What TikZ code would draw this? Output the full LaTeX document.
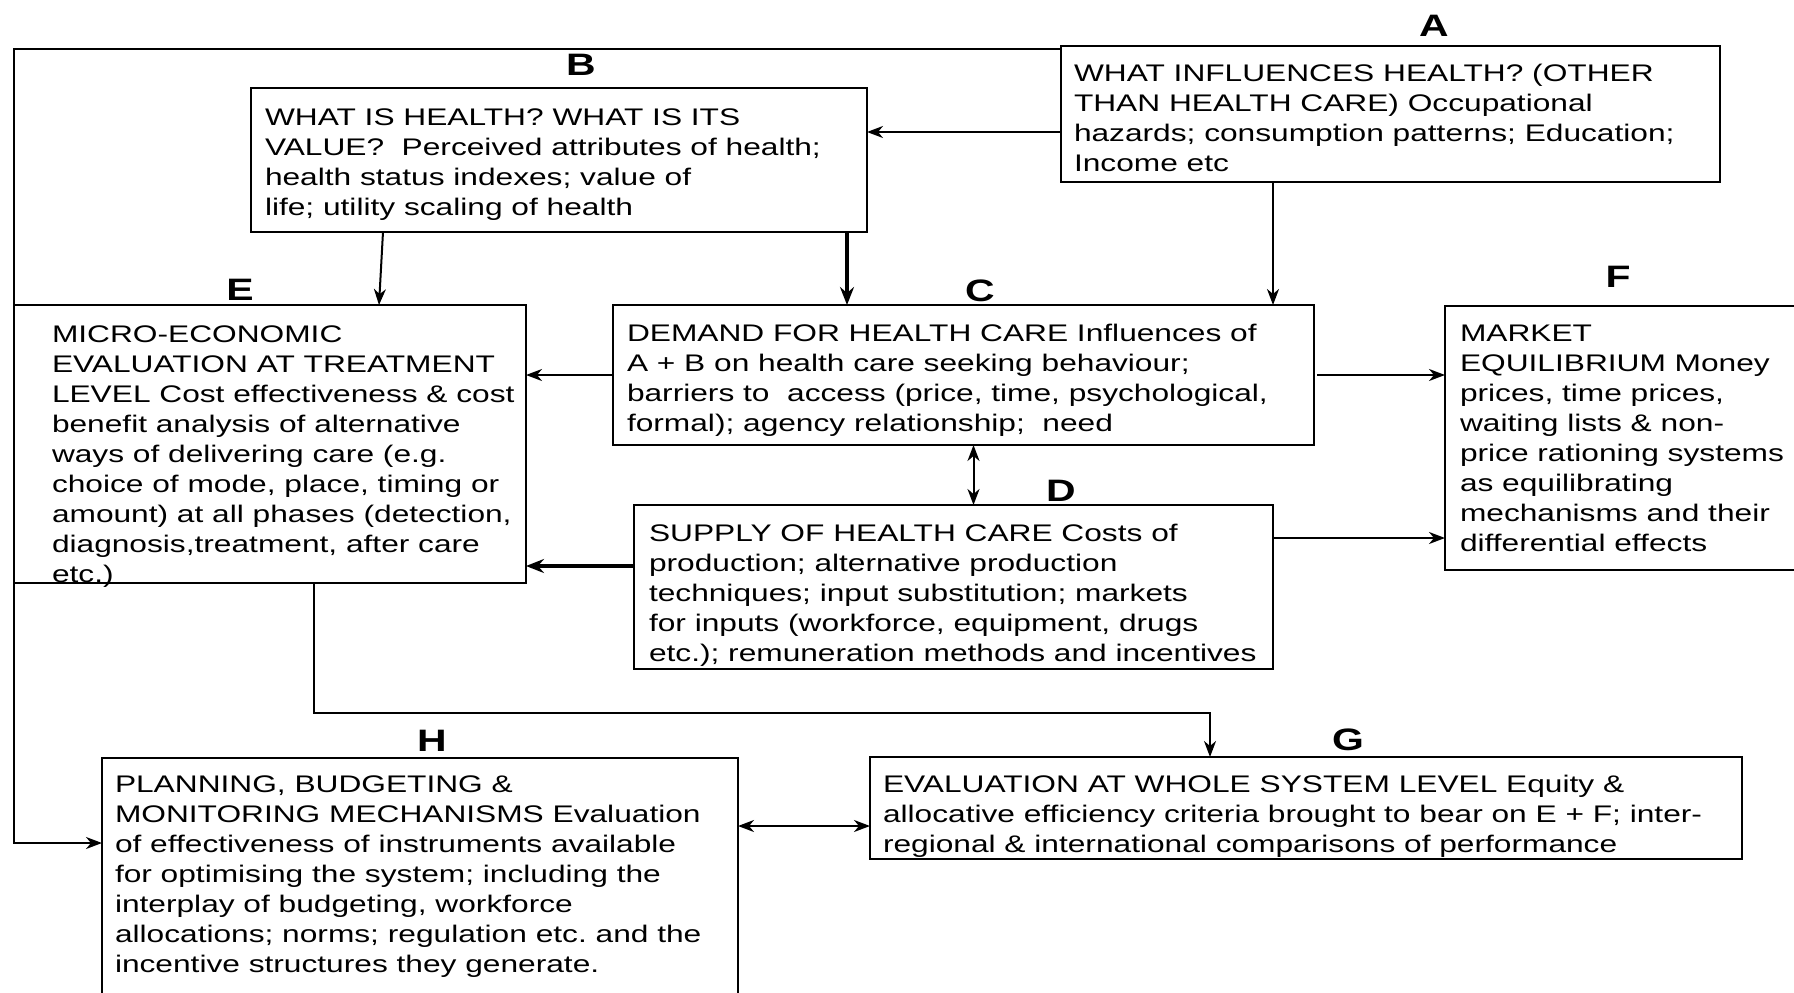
\documentclass[tikz,border=0pt]{standalone}
\usepackage{fontspec}
\setmainfont{Liberation Sans}[FakeStretch=1.32]
\usetikzlibrary{arrows.meta,calc}
\frenchspacing
\begin{document}
\begin{tikzpicture}[x=1pt,y=-1pt,
  box/.style={draw, line width=2pt, inner sep=0pt, outer sep=0pt, rectangle, anchor=north west},
  txt/.style={anchor=north west, inner sep=0pt, outer sep=0pt, align=left, font=\fontsize{24}{30}\selectfont},
  lbl/.style={font=\fontsize{31}{31}\selectfont\bfseries, inner sep=0pt},
  arr/.style={line width=2pt, -{Stealth[length=16pt,width=12pt,inset=5pt]}},
  tarr/.style={line width=3.5pt, -{Stealth[length=18pt,width=14pt,inset=6pt]}},
  darr/.style={line width=2pt, {Stealth[length=16pt,width=12pt,inset=5pt]}-{Stealth[length=16pt,width=12pt,inset=5pt]}},
  ]
\useasboundingbox (0,0) rectangle (1794,993);
\clip (0,0) rectangle (1794,993);

% boxes
\node[box, minimum width=659pt, minimum height=136pt] (A) at (1061,46) {};
\node[box, minimum width=616pt, minimum height=144pt] (B) at (251,88) {};
\node[box, minimum width=701pt, minimum height=140pt] (C) at (613,305) {};
\node[box, minimum width=639pt, minimum height=164pt] (D) at (634,505) {};
\node[box, minimum width=512pt, minimum height=278pt] (E) at (14,305) {};
\node[box, minimum width=400pt, minimum height=264pt] (F) at (1445,306) {};
\node[box, minimum width=872pt, minimum height=102pt] (G) at (870,757) {};
\node[box, minimum width=636pt, minimum height=260pt] (H) at (102,758) {};

% texts
\node[txt] (At) at ([xshift=13pt,yshift=-14pt]A.north west) {\strut WHAT INFLUENCES HEALTH? (OTHER\\THAN HEALTH CARE) Occupational\\hazards; consumption patterns; Education;\\Income etc};
\node[txt] (Bt) at ([xshift=14pt,yshift=-16pt]B.north west) {\strut WHAT IS HEALTH? WHAT IS ITS\\VALUE?~ Perceived attributes of health;\\health status indexes; value of\\life; utility scaling of health};
\node[txt] (Ct) at ([xshift=14pt,yshift=-15pt]C.north west) {\strut DEMAND FOR HEALTH CARE Influences of\\A + B on health care seeking behaviour;\\barriers to~ access (price, time, psychological,\\formal); agency relationship;~ need};
\node[txt] (Dt) at ([xshift=15pt,yshift=-15pt]D.north west) {\strut SUPPLY OF HEALTH CARE Costs of\\production; alternative production\\techniques; input substitution; markets\\for inputs (workforce, equipment, drugs\\etc.); remuneration methods and incentives};
\node[txt] (Et) at ([xshift=38pt,yshift=-16pt]E.north west) {\strut MICRO-ECONOMIC\\EVALUATION AT TREATMENT\\LEVEL Cost effectiveness \& cost\\benefit analysis of alternative\\ways of delivering care (e.g.\\choice of mode, place, timing or\\amount) at all phases (detection,\\diagnosis,treatment, after care\\etc.)};
\node[txt] (Ft) at ([xshift=15pt,yshift=-14pt]F.north west) {\strut MARKET\\EQUILIBRIUM Money\\prices, time prices,\\waiting lists \& non-\\price rationing systems\\as equilibrating\\mechanisms and their\\differential effects};
\node[txt] (Gt) at ([xshift=13pt,yshift=-14pt]G.north west) {\strut EVALUATION AT WHOLE SYSTEM LEVEL Equity \&\\allocative efficiency criteria brought to bear on E + F; inter-\\regional \& international comparisons of performance};
\node[txt] (Ht) at ([xshift=13pt,yshift=-13pt]H.north west) {\strut PLANNING, BUDGETING \&\\MONITORING MECHANISMS Evaluation\\of effectiveness of instruments available\\for optimising the system; including the\\interplay of budgeting, workforce\\allocations; norms; regulation etc. and the\\incentive structures they generate.};

% letter labels
\node[lbl] (LA) at (1434,26) {A};
\node[lbl] (LB) at (581,65) {B};
\node[lbl] (LC) at (980,291) {C};
\node[lbl] (LD) at (1061,491) {D};
\node[lbl] (LE) at (240,290) {E};
\node[lbl] (LF) at (1618,277) {F};
\node[lbl] (LG) at (1348,740) {G};
\node[lbl] (LH) at (432,741) {H};

% connectors
\draw[arr] ([yshift=-3pt]A.north west) -| (E.north west) |- ([yshift=-85pt]H.north west);
\coordinate (ab) at ([yshift=-86pt]A.north west);
\draw[arr] (ab) -- (ab -| B.east);
\coordinate (ac) at ([xshift=-41pt]C.north east);
\draw[arr] (ac |- A.south) -- (ac);
\coordinate (bc) at ([xshift=-20pt]B.south east);
\draw[tarr] (bc) -- (bc |- C.north);
\draw[arr] ([xshift=132pt]B.south west) -- ([xshift=365pt]E.north west);
\draw[arr] (C.west) -- (C.west -| E.east);
\coordinate (de) at ([yshift=-61pt]D.north west);
\draw[tarr] (de) -- (de -| E.east);
\draw[arr] ([xshift=3pt]C.east) -- (C.east -| F.west);
\coordinate (df) at ([yshift=-33pt]D.north east);
\draw[arr] (df) -- (df -| F.west);
\coordinate (cd) at ([xshift=10pt]C.south);
\draw[darr] (cd) -- (cd |- D.north);
\coordinate (eg) at ([xshift=300pt]E.south west);
\coordinate (ge) at ([xshift=340pt]G.north west);
\draw[arr] (eg) |- ([yshift=44pt]ge) -- (ge);
\coordinate (hg) at ([yshift=-68pt]H.north east);
\draw[darr] (hg) -- (hg -| G.west);
\end{tikzpicture}
\end{document}
